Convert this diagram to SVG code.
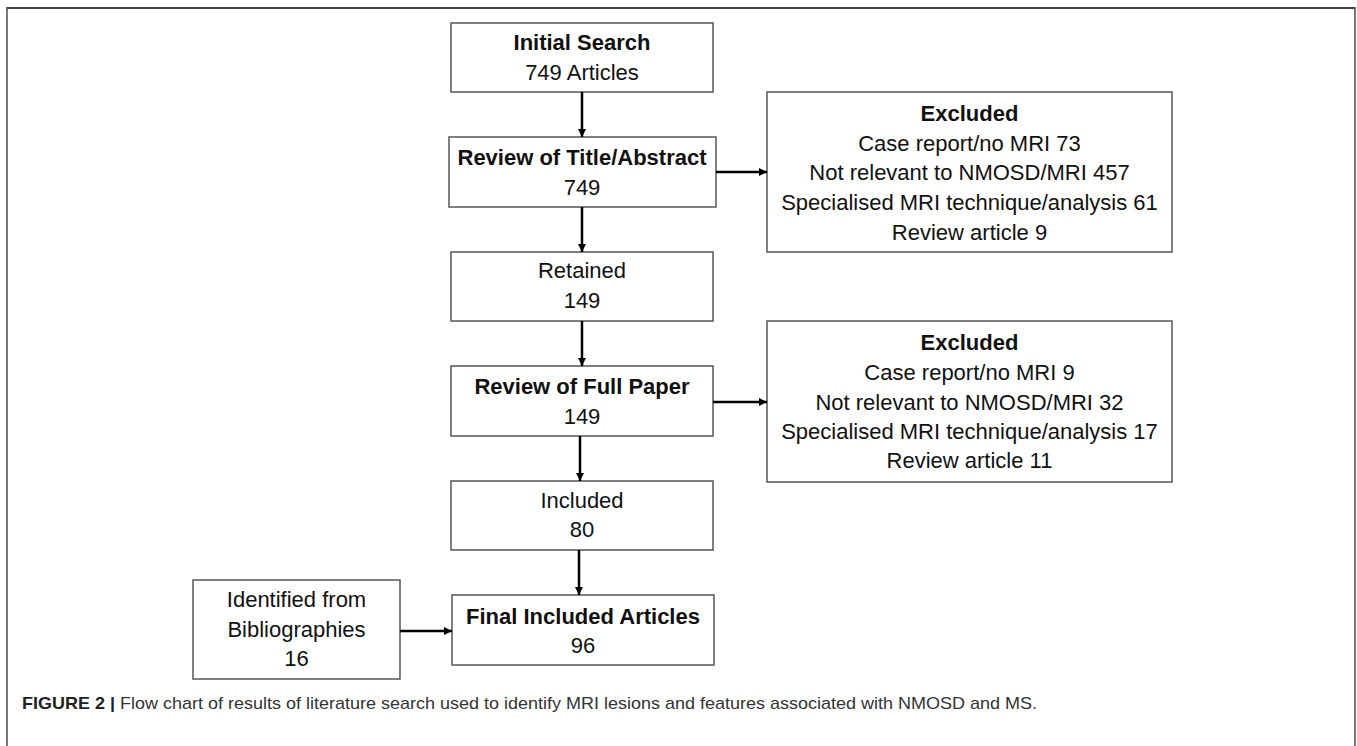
<svg xmlns="http://www.w3.org/2000/svg" width="1357" height="746" viewBox="0 0 1357 746">
<style>
.box{fill:#fff;stroke:#555;stroke-width:1.5}
.t{font-family:"Liberation Sans",Arial,sans-serif;font-size:22px;fill:#111;text-anchor:middle}
.b{font-weight:bold}
.arr{stroke:#000;stroke-width:2.5;fill:none;marker-end:url(#ah)}
.cap{font-family:"Liberation Sans",Arial,sans-serif;font-size:17px;fill:#333}
</style>
<defs>
<marker id="ah" viewBox="0 0 10 10" refX="10" refY="5" markerWidth="3.2" markerHeight="3.2" orient="auto" markerUnits="strokeWidth">
<path d="M0,0 L10,5 L0,10 z" fill="#000"/>
</marker>
</defs>
<rect width="1357" height="746" fill="#fff"/>
<path d="M7,746 V8 H1355 V746" fill="none" stroke="#777" stroke-width="2"/>
<line x1="7" y1="8" x2="1355" y2="8" stroke="#444" stroke-width="2"/>

<g id="initial"><rect class="box" x="451" y="23" width="262" height="69"/>
<text class="t b" x="582" y="50">Initial Search</text><text class="t" x="582" y="80">749 Articles</text></g>
<g id="review-title"><rect class="box" x="449" y="137" width="267" height="70"/>
<text class="t b" x="582" y="165">Review of Title/Abstract</text><text class="t" x="582" y="195">749</text></g>
<g id="retained"><rect class="box" x="451" y="252" width="262" height="69"/>
<text class="t" x="582" y="278">Retained</text><text class="t" x="582" y="308">149</text></g>
<g id="review-full"><rect class="box" x="451" y="366" width="262" height="70"/>
<text class="t b" x="582" y="394">Review of Full Paper</text><text class="t" x="582" y="424">149</text></g>
<g id="included"><rect class="box" x="451" y="481" width="262" height="69"/>
<text class="t" x="582" y="508">Included</text><text class="t" x="582" y="537">80</text></g>
<g id="final"><rect class="box" x="452" y="595" width="262" height="70"/>
<text class="t b" x="583" y="624">Final Included Articles</text><text class="t" x="583" y="653">96</text></g>
<g id="identified"><rect class="box" x="193" y="580" width="207" height="99"/>
<text class="t" x="296.5" y="607">Identified from</text><text class="t" x="296.5" y="637">Bibliographies</text><text class="t" x="296.5" y="666">16</text></g>
<g id="excluded1"><rect class="box" x="767" y="92" width="405" height="160"/>
<text class="t b" x="969.5" y="121">Excluded</text>
<text class="t" x="969.5" y="151">Case report/no MRI 73</text>
<text class="t" x="969.5" y="180">Not relevant to NMOSD/MRI 457</text>
<text class="t" x="969.5" y="210">Specialised MRI technique/analysis 61</text>
<text class="t" x="969.5" y="240">Review article 9</text></g>
<g id="excluded2"><rect class="box" x="767" y="321" width="405" height="161"/>
<text class="t b" x="969.5" y="350">Excluded</text>
<text class="t" x="969.5" y="380">Case report/no MRI 9</text>
<text class="t" x="969.5" y="410">Not relevant to NMOSD/MRI 32</text>
<text class="t" x="969.5" y="439">Specialised MRI technique/analysis 17</text>
<text class="t" x="969.5" y="468">Review article 11</text></g>

<g id="connectors">
<line class="arr" x1="582" y1="92" x2="582" y2="137"/>
<line class="arr" x1="582" y1="207" x2="582" y2="252"/>
<line class="arr" x1="582" y1="321" x2="582" y2="366"/>
<line class="arr" x1="580" y1="436" x2="580" y2="481"/>
<line class="arr" x1="579" y1="550" x2="579" y2="595"/>
<line class="arr" x1="716" y1="172" x2="767" y2="172"/>
<line class="arr" x1="713" y1="402" x2="767" y2="402"/>
<line class="arr" x1="400" y1="631" x2="452" y2="631"/>
</g>

<text class="cap" x="22" y="709" textLength="1015" lengthAdjust="spacingAndGlyphs"><tspan font-weight="bold" fill="#222">FIGURE 2 |</tspan> Flow chart of results of literature search used to identify MRI lesions and features associated with NMOSD and MS.</text>
</svg>
